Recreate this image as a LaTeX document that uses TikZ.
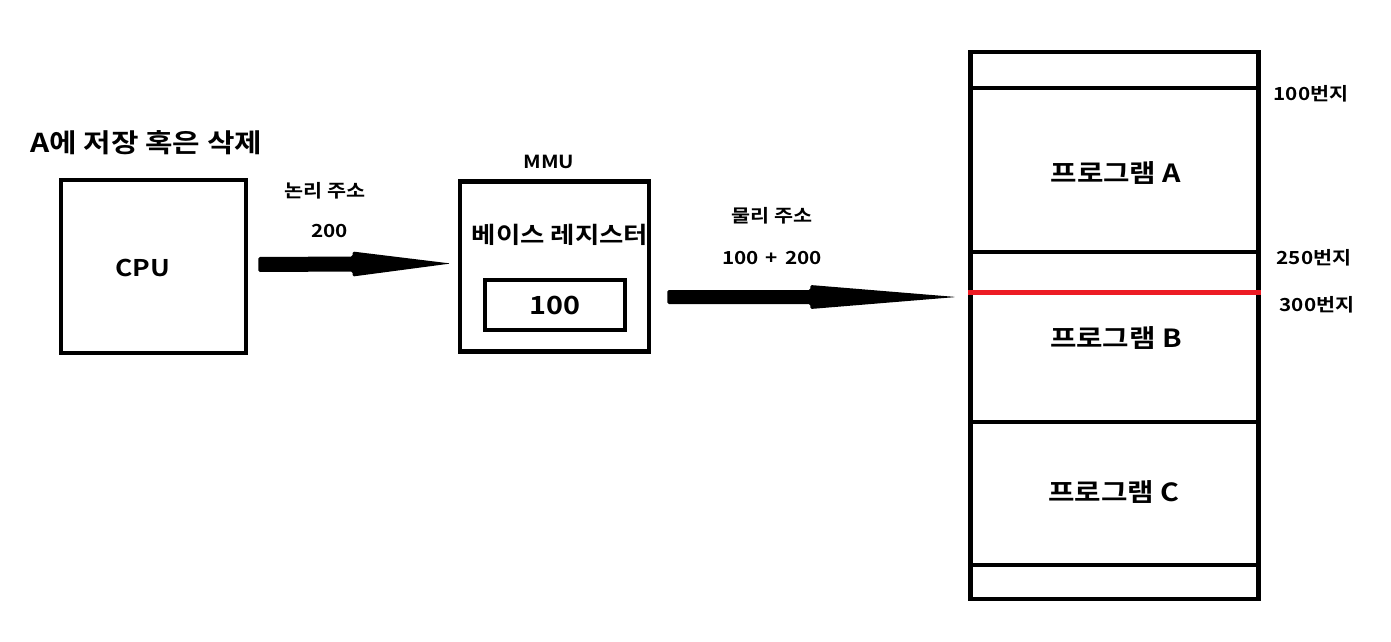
\documentclass[tikz,border=0pt]{standalone}
\usepackage{fontspec}
\setmainfont{Noto Sans CJK KR}[FakeStretch=1.15,BoldFont=* Bold]
\usetikzlibrary{calc}
\definecolor{memred}{RGB}{237,28,36}
\newcommand{\fatarr}[5]{%
  \path (#1) coordinate (fa-s) ($(#1)!#3!(#2)$) coordinate (fa-b);
  \fill[rounded corners=1.5] ($(fa-s)+(0,-#4)$) -- ($(fa-b)+(0,-#4)$) -- ($(fa-b)+(0,-#5)$) -- (#2) -- ($(fa-b)+(0,#5)$) -- ($(fa-b)+(0,#4)$) -- ($(fa-s)+(0,#4)$) -- cycle;}
\tikzset{
  boxnode/.style={draw, line width=4.6pt, rectangle, inner sep=0pt},
  txt/.style={inner sep=0pt, font=\bfseries\fontsize{#1}{#1}\selectfont},
  txt/.default=18,
  memline/.style={line width=4.6pt},
}
\begin{document}
\begin{tikzpicture}[x=1pt,y=-1pt]
\useasboundingbox (0,0) rectangle (1391,641);
\fill[white] (0,0) rectangle (1391,641);

% title
\node[txt=26, anchor=west] (title) at (30,143) {A에 저장 혹은 삭제};

% CPU
\node[boxnode, minimum width=185pt, minimum height=173pt] (cpu) at (153.5,266.5) {};
\node[txt=23] (cputxt) at (143,268) {CPU};

% MMU
\node[txt=18] (mmulbl) at (549,161.5) {MMU};
\node[boxnode, minimum width=189pt, minimum height=170pt] (mmu) at (554.5,266.5) {};
\node[txt=23] (basereg) at (560,235) {베이스 레지스터};
\node[draw, line width=4pt, rectangle, minimum width=140pt, minimum height=50pt, inner sep=0pt] (basebox) at (555,305) {};
\node[txt=25] (baseval) at (555,305) {100};

% labels over arrows
\node[txt=18] (lab1) at (325,191) {논리 주소};
\node[txt=18] (lab1v) at (329.5,231.5) {200};
\node[txt=18] (lab2) at (772,216) {물리 주소};
\node[txt=18] (lab2v) at (772,258) {100\hspace{7pt}+\hspace{7pt}200};

% memory
\node[boxnode, minimum width=288pt, minimum height=547pt] (mem) at (1114.5,325.5) {};
\coordinate (m100) at (0,88);
\coordinate (m250) at (0,252);
\coordinate (m300) at (0,292.5);
\coordinate (mc1) at (0,422);
\coordinate (mc2) at (0,565);
\draw[memline] (mem.west |- m100) -- (mem.east |- m100);
\draw[memline] (mem.west |- m250) -- (mem.east |- m250);
\draw[memline] (mem.west |- mc1) -- (mem.east |- mc1);
\draw[memline] (mem.west |- mc2) -- (mem.east |- mc2);
\draw[memline, memred] (mem.west |- m300) -- (mem.east |- m300);

\node[txt=25] (progA) at (1116,173) {프로그램 A};
\node[txt=25] (progB) at (1116,338) {프로그램 B};
\node[txt=25] (progC) at (1114,492) {프로그램 C};

\node[txt=18] (l100) at (1311,94) {100번지};
\node[txt=18] (l250) at (1314,258) {250번지};
\node[txt=18] (l300) at (1317,305) {300번지};

% arrows
\coordinate (a1s) at ($(cpu.east)+(10,-2)$);
\coordinate (a1e) at ($(mmu.west)+(-7,-3)$);
\fatarr{a1s}{a1e}{0.49}{7.5}{12.5}
\coordinate (a2s) at ($(mmu.east)+(16,30.5)$);
\coordinate (a2e) at ($(mem.west |- 0,297)+(-12,0)$);
\fatarr{a2s}{a2e}{0.495}{7}{12}
\end{tikzpicture}
\end{document}
